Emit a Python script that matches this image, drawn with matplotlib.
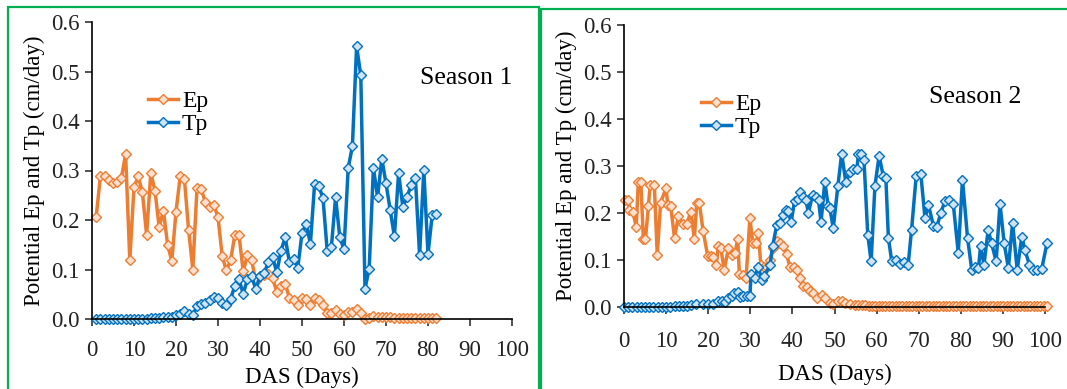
import matplotlib
matplotlib.use("Agg")
import matplotlib.pyplot as plt
from matplotlib.patches import Rectangle
from matplotlib.ticker import FormatStrFormatter

# ---------------- Season 1 (daily) ----------------
s1_days = list(range(1, 83))
s1_ep = [0.207, 0.288, 0.288, 0.281, 0.274, 0.276, 0.285, 0.333, 0.119, 0.266,
         0.288, 0.256, 0.170, 0.295, 0.259, 0.185, 0.219, 0.150, 0.117, 0.217,
         0.288, 0.283, 0.180, 0.100, 0.264, 0.262, 0.236, 0.227, 0.231, 0.206,
         0.127, 0.098, 0.119, 0.169, 0.170, 0.096, 0.129, 0.119, 0.076, 0.086,
         0.089, 0.091, 0.082, 0.055, 0.067, 0.071, 0.043, 0.038, 0.028, 0.042,
         0.040, 0.028, 0.042, 0.038, 0.028, 0.013, 0.013, 0.018, 0.011, 0.008,
         0.015, 0.015, 0.020, 0.013, 0.001, 0.003, 0.006, 0.005, 0.005, 0.004,
         0.004, 0.003, 0.003, 0.003, 0.002, 0.002, 0.002, 0.002, 0.002, 0.002,
         0.002, 0.002]
s1_tp = [0.000, 0.000, 0.000, 0.000, 0.000, 0.000, 0.000, 0.000, 0.000, 0.000,
         0.001, 0.001, 0.001, 0.002, 0.002, 0.003, 0.004, 0.005, 0.005, 0.008,
         0.011, 0.016, 0.011, 0.008, 0.026, 0.030, 0.032, 0.038, 0.045, 0.043,
         0.033, 0.028, 0.040, 0.067, 0.080, 0.051, 0.080, 0.087, 0.060, 0.087,
         0.092, 0.116, 0.125, 0.094, 0.138, 0.165, 0.115, 0.121, 0.104, 0.173,
         0.192, 0.152, 0.273, 0.269, 0.244, 0.138, 0.146, 0.246, 0.165, 0.141,
         0.305, 0.349, 0.551, 0.492, 0.061, 0.102, 0.305, 0.246, 0.324, 0.274,
         0.220, 0.167, 0.295, 0.227, 0.246, 0.271, 0.285, 0.129, 0.301, 0.131,
         0.210, 0.212]

# ---------------- Season 2 ----------------
s2_ep_days = [0.2, 1.0, 1.3, 2.1, 2.9, 3.4, 4.0, 4.6, 5.1, 5.8, 6.2, 7.2, 7.9, 8.7,
              10.0, 10.4, 11.1, 12.0, 12.9, 13.9, 14.9, 15.9, 16.7, 17.3, 17.9,
              18.8, 19.9, 20.6, 21.2, 21.9, 22.4, 23.0, 23.8, 24.8, 25.7, 26.4,
              27.0, 27.4, 28.2, 29.0, 29.9, 30.6, 31.4, 31.9, 32.5, 33.3, 33.9,
              34.7, 35.5, 36.3, 37.1, 37.8, 38.6, 39.4, 40.4, 41.0, 41.8, 42.6,
              43.4, 44.2, 45.0, 45.8, 47.0, 47.7, 48.9, 49.7, 50.8, 51.7, 52.5,
              53.7, 54.9, 55.7, 56.5, 57.3, 58.1, 58.9, 59.7, 60.5, 61.3, 62.1,
              62.9, 63.7, 64.5, 65.3, 66.1, 66.9, 67.7, 68.5, 69.3, 70.1, 70.9,
              71.7, 72.5, 73.3, 74.1, 74.9, 75.7, 76.5, 77.3, 78.1, 78.9, 79.7,
              80.5, 81.3, 82.1, 82.9, 83.7, 84.5, 85.3, 86.1, 86.9, 87.7, 88.5,
              89.3, 90.1, 90.9, 91.7, 92.5, 93.3, 94.1, 94.9, 95.7, 96.5, 97.3,
              98.1, 98.9, 99.7, 100.5]
s2_ep = [0.228, 0.228, 0.207, 0.203, 0.171, 0.265, 0.265, 0.145, 0.145, 0.214,
         0.260, 0.260, 0.111, 0.222, 0.253, 0.216, 0.214, 0.147, 0.193, 0.177,
         0.177, 0.203, 0.145, 0.222, 0.221, 0.161, 0.108, 0.109, 0.106, 0.089,
         0.129, 0.125, 0.079, 0.125, 0.111, 0.115, 0.145, 0.071, 0.069, 0.062,
         0.189, 0.136, 0.136, 0.157, 0.090, 0.085, 0.086, 0.101, 0.125, 0.140,
         0.136, 0.129, 0.113, 0.086, 0.086, 0.078, 0.062, 0.044, 0.043, 0.033,
         0.030, 0.019, 0.026, 0.019, 0.009, 0.007, 0.012, 0.012, 0.009, 0.007,
         0.005, 0.005, 0.004, 0.004, 0.003, 0.003, 0.003, 0.002, 0.002, 0.002,
         0.002, 0.002, 0.002, 0.002, 0.002, 0.002, 0.002, 0.002, 0.002, 0.002,
         0.002, 0.002, 0.002, 0.002, 0.002, 0.002, 0.002, 0.002, 0.002, 0.002,
         0.002, 0.002, 0.002, 0.002, 0.002, 0.002, 0.002, 0.002, 0.002, 0.002,
         0.002, 0.002, 0.002, 0.002, 0.002, 0.002, 0.002, 0.002, 0.002, 0.002,
         0.002, 0.002, 0.002, 0.002, 0.002, 0.002, 0.002, 0.002]
s2_tp_days = [0, 1, 2, 3, 4, 5, 6, 7, 8, 9, 10, 11, 12, 13, 14, 15, 16, 17,
              18.8, 19.9, 21.2, 22.4, 23.2, 24.0, 24.8, 25.6, 26.2, 27.0, 27.6,
              28.3, 29.1, 29.9, 30.2, 31.0, 31.9, 32.7, 33.3, 34.7, 35.3, 36.3,
              37.1, 37.7, 38.5, 39.0, 39.7, 40.5, 41.3, 41.8, 42.6, 43.2, 43.8,
              44.8, 45.6, 46.2, 46.8, 47.7, 48.5, 48.9, 49.7, 50.8, 51.7, 52.7,
              53.7, 54.5, 55.3, 55.7, 56.2, 57.0, 57.9, 58.7, 59.6, 60.6, 61.6,
              62.2, 62.8, 63.6, 64.6, 65.6, 66.6, 67.5, 68.3, 69.4, 70.5, 71.5,
              72.3, 73.5, 74.3, 75.3, 76.2, 77.3, 78.2, 79.4, 80.4, 81.6, 82.6,
              83.4, 84.2, 84.7, 85.5, 86.5, 87.3, 88.4, 89.3, 90.3, 91.3, 92.3,
              93.4, 94.5, 95.2, 96.3, 97.2, 98.0, 99.2, 100.5]
s2_tp = [0.000, 0.000, 0.001, 0.000, 0.001, 0.000, 0.001, 0.000, 0.000, 0.001,
         0.001, 0.001, 0.002, 0.002, 0.003, 0.003, 0.004, 0.007,
         0.007, 0.007, 0.007, 0.012, 0.012, 0.010, 0.019, 0.023, 0.030, 0.031,
         0.021, 0.023, 0.023, 0.023, 0.071, 0.062, 0.086, 0.058, 0.065, 0.090,
         0.129, 0.175, 0.179, 0.196, 0.206, 0.205, 0.180, 0.225, 0.230, 0.244,
         0.234, 0.228, 0.200, 0.239, 0.235, 0.228, 0.180, 0.267, 0.214, 0.210,
         0.168, 0.257, 0.326, 0.265, 0.288, 0.293, 0.293, 0.326, 0.326, 0.313,
         0.154, 0.097, 0.257, 0.322, 0.278, 0.274, 0.147, 0.097, 0.101, 0.091,
         0.095, 0.090, 0.164, 0.278, 0.283, 0.189, 0.218, 0.173, 0.171, 0.201,
         0.225, 0.228, 0.220, 0.115, 0.271, 0.147, 0.079, 0.086, 0.083, 0.129,
         0.090, 0.164, 0.136, 0.097, 0.220, 0.136, 0.083, 0.179, 0.079, 0.150,
         0.122, 0.090, 0.079, 0.079, 0.080, 0.137]

x_ticks = [0, 10, 20, 30, 40, 50, 60, 70, 80, 90, 100]
y_ticks = [0.0, 0.1, 0.2, 0.3, 0.4, 0.5, 0.6]
x_label = "DAS (Days)"
y_label = "Potential Ep and Tp (cm/day)"
series_names = ["Ep", "Tp"]
panel_titles = ["Season 1", "Season 2"]

ORANGE = "#ED7D31"
BLUE = "#0070C0"
GREEN = "#00B050"

plt.rcParams['font.family'] = ['Liberation Serif', 'DejaVu Serif']

W, H = 1067, 389
fig = plt.figure(figsize=(W / 100, H / 100), dpi=100)

# panel borders
fig.add_artist(Rectangle((8 / W, -0.05), (539 - 8) / W, 1.05 - 7 / H,
                         transform=fig.transFigure, fill=False, ec=GREEN, lw=1.6))
fig.add_artist(Rectangle((541 / W, -0.05), 0.6, 1.05 - 9 / H,
                         transform=fig.transFigure, fill=False, ec=GREEN, lw=1.6))

ax1 = fig.add_axes([92 / W, (H - 319) / H, 420 / W, 297 / H])
ax2 = fig.add_axes([624 / W, (H - 307) / H, 421 / W, 282 / H])

def style(ax, xpad, xlabpad):
    ax.set_xlim(0, 100)
    ax.set_ylim(0, 0.6)
    ax.set_xticks(x_ticks)
    ax.set_yticks(y_ticks)
    ax.yaxis.set_major_formatter(FormatStrFormatter('%.1f'))
    for s in ['top', 'right']:
        ax.spines[s].set_visible(False)
    for s in ['left', 'bottom']:
        ax.spines[s].set_linewidth(1.2)
        ax.spines[s].set_color('black')
    ax.tick_params(direction='out', length=5, width=1.1, labelsize=16.5,
                   colors='#222222', pad=4)
    ax.tick_params(axis='x', pad=xpad)
    ax.set_xlabel(x_label, fontsize=16.5, labelpad=xlabpad)
    ax.set_ylabel(y_label, fontsize=16.5, labelpad=4)

mk = dict(marker='D', markersize=4.8, markeredgewidth=1.0, lw=2.5, clip_on=False)

ax1.plot(s1_days, s1_ep, color=ORANGE, mfc='#FBE0CF', mec=ORANGE, label=series_names[0], **mk)
ax1.plot(s1_days, s1_tp, color=BLUE, mfc='#CFE3F5', mec=BLUE, label=series_names[1], **mk)
ax2.plot(s2_ep_days, s2_ep, color=ORANGE, mfc='#FBE0CF', mec=ORANGE, label=series_names[0], **mk)
ax2.plot(s2_tp_days, s2_tp, color=BLUE, mfc='#CFE3F5', mec=BLUE, label=series_names[1], **mk)

style(ax1, 10, 4)
style(ax2, 12, 9)

ax1.legend(loc='upper left', bbox_to_anchor=(0.11, 0.8), frameon=False, fontsize=17,
           handlelength=1.3, handletextpad=0.15, labelspacing=0.05, borderaxespad=0)
ax2.legend(loc='upper left', bbox_to_anchor=(0.16, 0.79), frameon=False, fontsize=17,
           handlelength=1.3, handletextpad=0.15, labelspacing=0.05, borderaxespad=0)

ax1.text(0.89, 0.81, panel_titles[0], transform=ax1.transAxes, ha='center', va='center', fontsize=18.5)
ax2.text(0.834, 0.745, panel_titles[1], transform=ax2.transAxes, ha='center', va='center', fontsize=18.5)

fig.savefig("out.png", dpi=100)
